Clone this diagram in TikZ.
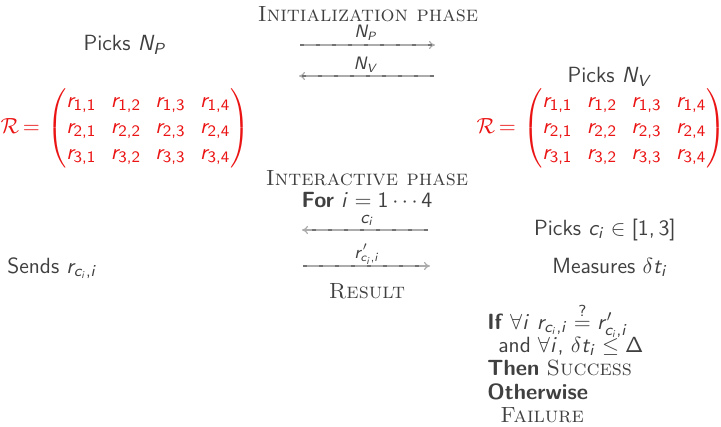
\documentclass[tikz,border=0pt]{standalone}
\usepackage{amsmath}
\usetikzlibrary{arrows.meta}
\DeclareSymbolFont{origletters}{OML}{cmm}{m}{it}
\SetSymbolFont{operators}{normal}{OT1}{cmss}{m}{n}
\SetSymbolFont{letters}{normal}{OT1}{cmss}{m}{sl}
\DeclareMathSymbol{\delta}{\mathord}{origletters}{"0E}
\DeclareMathSymbol{,}{\mathpunct}{operators}{"2C}
\definecolor{txt}{RGB}{64,64,64}
\definecolor{mred}{RGB}{235,20,20}
\newcommand{\Rmat}{$\mathcal{R}\mskip-2mu=\mskip1mu\setlength{\arraycolsep}{3.6pt}\begin{pmatrix} r_{1,1} & r_{1,2} & r_{1,3} & r_{1,4}\\ r_{2,1} & r_{2,2} & r_{2,3} & r_{2,4}\\ r_{3,1} & r_{3,2} & r_{3,3} & r_{3,4}\end{pmatrix}$}
\tikzset{
  lbl/.style={inner sep=0pt, text=txt, font=\fontsize{11}{13}\selectfont\sffamily},
  ttl/.style={inner sep=0pt, text=txt, font=\fontsize{11}{13}\selectfont\rmfamily\scshape},
  mat/.style={inner sep=0pt, text=mred, font=\fontsize{11}{13}\selectfont\sffamily},
  small/.style={inner sep=0pt, text=txt, font=\fontsize{9}{11}\selectfont\sffamily},
  msg/.style={draw=gray!65, line width=0.6pt, -{To[length=3pt,width=4pt]}},
  msgdash/.style={draw=gray!90!black, line width=0.6pt, dash pattern=on 2pt off 6pt},
}
\begin{document}
\begin{tikzpicture}[x=0.5pt,y=-0.5pt]
\useasboundingbox (0,0) rectangle (721,427);
% titles
\node[ttl, anchor=base] (init) at (368,22) {Initialization phase};
\node[ttl, anchor=base] (inter) at (367,185) {Interactive phase};
\node[ttl, anchor=base] (res) at (367,298) {Result};
\node[lbl, anchor=base] (for) at (367,207) {\textbf{For} $i=1\cdots4$};
% initialization
\node[lbl, anchor=base] (pnp) at (125,51) {Picks $N_P$};
\node[lbl, anchor=base] (pnv) at (610,83) {Picks $N_V$};
\node[mat] (lm) at (125,128.5) {\Rmat};
\node[mat] (rm) at (601,128.5) {\Rmat};
% arrows init
\coordinate (a1s) at (300,45); \coordinate (a1e) at (435,45);
\coordinate (a2s) at (434,76); \coordinate (a2e) at (299,76);
\node[small, anchor=base] (lnp) at (366,38) {$N_P$};
\node[small, anchor=base] (lnv) at (366,70) {$N_V$};
\draw[msg] (a1s) -- (a1e); \draw[msgdash] (a1s) -- (a1e);
\draw[msg] (a2s) -- (a2e); \draw[msgdash] (a2s) -- (a2e);
% interactive
\node[lbl, anchor=base] (pci) at (605,235) {Picks $c_i\in[1,3]$};
\node[lbl, anchor=base] (mdt) at (610,273) {Measures $\delta t_i$};
\node[lbl, anchor=base west] (snd) at (7,273) {Sends $r_{c_i,i}$};
\coordinate (a3s) at (428,230); \coordinate (a3e) at (302,230);
\coordinate (a4s) at (303,266); \coordinate (a4e) at (430,266);
\node[small, anchor=base] (lci) at (367,223) {$c_i$};
\node[small, anchor=base] (lrp) at (367,258) {$r'_{c_i,i}$};
\draw[msg] (a3s) -- (a3e); \draw[msgdash] (a3s) -- (a3e);
\draw[msg] (a4s) -- (a4e); \draw[msgdash] (a4s) -- (a4e);
% result block
\node[lbl, anchor=base west] (if1) at (487,329) {\textbf{If} $\forall i\ r_{c_i,i}\stackrel{?}{=}r'_{c_i,i}$};
\node[lbl, anchor=base west] (if2) at (498,352) {and $\forall i,\,\delta t_i\leq\Delta$};
\node[lbl, anchor=base west] (if3) at (487,375) {\textbf{Then} \textrm{\textsc{Success}}};
\node[lbl, anchor=base west] (if4) at (487,399) {\textbf{Otherwise}};
\node[lbl, anchor=base west] (if5) at (500,422) {\textrm{\textsc{Failure}}};
\end{tikzpicture}
\end{document}
